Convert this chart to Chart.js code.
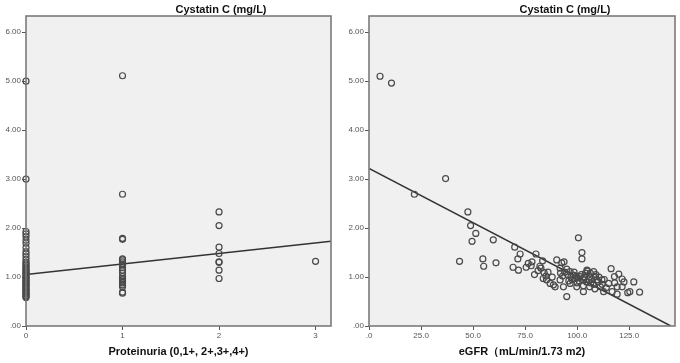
<!DOCTYPE html>
<html lang="en">
<head>
  <meta charset="UTF-8" />
  <title>Cystatin C scatter plots</title>
  <script src="https://cdn.jsdelivr.net/npm/chart.js"></script>
  <style>
    body {
      margin: 0;
      background: #fff;
      font-family: 'Liberation Sans', Arial, sans-serif;
    }
    .panel {
      position: absolute;
      top: 0;
      width: 340px;
      height: 363px;
    }
    .panel-title {
      position: absolute;
      top: 3px;
      font-size: 11px;
      font-weight: bold;
      color: #111;
      white-space: nowrap;
      transform: translateX(-50%);
    }
  </style>
</head>
<body>
  <div class="panel" style="left:0">
    <canvas id="leftChart" width="340" height="363"></canvas>
    <div class="panel-title" style="left:221px">Cystatin C (mg/L)</div>
  </div>
  <div class="panel" style="left:340px">
    <canvas id="rightChart" width="340" height="363"></canvas>
    <div class="panel-title" style="left:225px">Cystatin C (mg/L)</div>
  </div>

  <script>
    // left panel: cystatin C by proteinuria grade
    const cysGrade0 = [5.00, 3.00, 1.93, 1.88, 1.82, 1.75, 1.69, 1.60, 1.52, 1.47, 1.41, 1.35, 1.30, 1.27,
      1.24, 1.21, 1.18, 1.15, 1.12, 1.10, 1.07, 1.05, 1.02, 1.00, 0.98, 0.95, 0.92, 0.90, 0.87, 0.85,
      0.82, 0.80, 0.77, 0.75, 0.72, 0.70, 0.67, 0.65, 0.62, 0.60, 0.58];
    const cysGrade1 = [5.11, 2.69, 1.79, 1.77, 1.37, 1.35, 1.31, 1.27, 1.24, 1.19, 1.14, 1.08, 1.01,
      0.97, 0.94, 0.91, 0.88, 0.84, 0.80, 0.69, 0.67];
    const cysGrade2 = [2.33, 2.05, 1.61, 1.48, 1.31, 1.30, 1.14, 0.97];
    const cysGrade3 = [1.32];
    const leftFitX = [0, 3.16];
    const leftFitY = [1.05, 1.73];

    // right panel: cystatin C vs eGFR
    const egfr = [5.3, 10.8, 36.8, 21.8, 47.5, 48.8, 51.3, 49.5, 59.7, 43.5, 54.7, 55.1, 61.0, 70.0,
      72.6, 71.5, 69.2, 71.8, 80.2, 78.3, 77.9, 79.5, 81.2, 82.1, 82.6, 83.4, 84.1, 83.7, 85.3, 87.0,
      88.6, 90.2, 92.6, 93.7, 91.8, 95.0, 96.6, 98.2, 99.0, 95.0, 93.4, 91.8, 89.4, 96.6, 99.8, 100.6,
      102.3, 102.3, 101.4, 103.0, 103.0, 104.7, 106.3, 105.5, 107.9, 108.7, 109.5, 111.9, 111.1, 112.7,
      115.1, 116.3, 117.9, 120.0, 121.6, 119.2, 121.6, 116.8, 119.2, 125.3, 127.2, 130.0, 124.3,
      94.0, 95.5, 97.0, 97.5, 98.5, 99.5, 100.5, 101.0, 102.0, 103.5, 104.0, 104.5, 105.0, 106.0,
      106.5, 107.0, 108.0, 109.0, 110.0, 110.5, 112.0, 113.0, 114.0, 96.0, 93.0, 92.0, 88.0, 86.0,
      85.0, 100.0, 103.0, 106.0, 108.5, 118.0, 122.5, 75.5, 76.5];
    const cysRight = [5.10, 4.96, 3.01, 2.69, 2.33, 2.05, 1.89, 1.73, 1.76, 1.32, 1.37, 1.22, 1.29, 1.61,
      1.47, 1.37, 1.20, 1.14, 1.47, 1.31, 1.23, 1.05, 1.13, 1.22, 1.18, 1.33, 1.09, 0.97, 0.94, 0.87,
      0.84, 1.35, 1.29, 1.31, 1.18, 1.16, 1.11, 1.04, 0.97, 0.60, 0.80, 0.94, 0.80, 0.87, 0.80, 1.80,
      1.50, 1.37, 1.01, 0.94, 0.70, 1.14, 1.08, 0.94, 1.11, 1.01, 0.94, 0.94, 0.80, 0.70,
      0.87, 1.17, 1.01, 1.06, 0.96, 0.80, 0.80, 0.70, 0.65, 0.70, 0.90, 0.69, 0.68,
      1.10, 1.05, 1.00, 0.95, 1.10, 1.02, 0.98, 0.92, 1.05, 1.00, 1.08, 0.90, 1.12, 1.00,
      0.88, 0.95, 0.85, 1.05, 0.90, 1.00, 0.85, 0.95, 0.78, 0.92, 1.02, 1.08, 1.00, 1.10,
      1.02, 0.88, 0.82, 0.80, 0.76, 0.88, 0.90, 1.20, 1.28];
    const rightFitX = [0, 145];
    const rightFitY = [3.22, 0];

    const yTicks = [0, 1, 2, 3, 4, 5, 6];
    const leftXTicks = [0, 1, 2, 3];
    const rightXTicks = [0, 25, 50, 75, 100, 125];

    const fontFamily = "'Liberation Sans', Arial, sans-serif";

    // grey plot background + frame, SPSS style
    const framePlugin = {
      id: 'frame',
      beforeDraw(chart) {
        const a = chart.chartArea, c = chart.ctx;
        c.save();
        c.fillStyle = '#f0f0f0';
        c.fillRect(a.left, a.top, a.right - a.left, a.bottom - a.top);
        c.restore();
      },
      afterDatasetsDraw(chart) {
        const a = chart.chartArea, c = chart.ctx;
        c.save();
        c.strokeStyle = '#7a7a7a';
        c.lineWidth = 1.6;
        c.strokeRect(a.left, a.top, a.right - a.left, a.bottom - a.top);
        c.restore();
      }
    };

    function buildChart(id, points, fitX, fitY, opts) {
      const fit = fitX.map((x, i) => ({ x: x, y: fitY[i] }));
      return new Chart(document.getElementById(id), {
        type: 'scatter',
        data: {
          datasets: [
            {
              data: points,
              pointRadius: 3,
              pointHoverRadius: 3,
              borderWidth: 1.2,
              borderColor: '#4a4a4a',
              backgroundColor: 'rgba(0,0,0,0)',
              clip: false
            },
            {
              type: 'line',
              data: fit,
              borderColor: '#333',
              borderWidth: 1.5,
              pointRadius: 0,
              fill: false
            }
          ]
        },
        options: {
          responsive: false,
          animation: false,
          events: [],
          layout: { padding: { top: 16, right: opts.padRight, bottom: 0, left: 0 } },
          plugins: { legend: { display: false }, tooltip: { enabled: false } },
          scales: {
            x: {
              type: 'linear',
              min: 0,
              max: opts.xMax,
              afterBuildTicks: s => { s.ticks = opts.xTicks.map(v => ({ value: v })); },
              afterFit: s => { s.height = 37; },
              ticks: {
                includeBounds: false,
                padding: 1,
                color: '#555',
                font: { family: fontFamily, size: 8 },
                callback: opts.xLabel
              },
              grid: { drawOnChartArea: false, drawTicks: true, tickLength: 4, color: '#555' },
              border: { display: false },
              title: {
                display: true,
                text: opts.xTitle,
                color: '#111',
                padding: { top: 0, bottom: 4 },
                font: { family: fontFamily, size: 11, weight: 'bold' }
              }
            },
            y: {
              min: 0,
              max: 6.33,
              afterBuildTicks: s => { s.ticks = yTicks.map(v => ({ value: v })); },
              afterFit: s => { s.width = opts.yWidth; },
              ticks: {
                includeBounds: false,
                padding: 1,
                color: '#555',
                font: { family: fontFamily, size: 8 },
                callback: v => v === 0 ? '.00' : v.toFixed(2)
              },
              grid: { drawOnChartArea: false, drawTicks: true, tickLength: 4, color: '#555' },
              border: { display: false }
            }
          }
        },
        plugins: [framePlugin]
      });
    }

    const leftPoints = [];
    [cysGrade0, cysGrade1, cysGrade2, cysGrade3].forEach((vals, grade) => {
      vals.forEach(v => leftPoints.push({ x: grade, y: v }));
    });
    const rightPoints = egfr.map((x, i) => ({ x: x, y: cysRight[i] }));

    buildChart('leftChart', leftPoints, leftFitX, leftFitY, {
      xMax: 3.16, xTicks: leftXTicks, padRight: 9, yWidth: 26,
      xLabel: v => String(v),
      xTitle: 'Proteinuria (0,1+, 2+,3+,4+)'
    });

    buildChart('rightChart', rightPoints, rightFitX, rightFitY, {
      xMax: 147, xTicks: rightXTicks, padRight: 5, yWidth: 29,
      xLabel: v => v === 0 ? '.0' : v.toFixed(1),
      xTitle: 'eGFR（mL/min/1.73 m2)'
    });
  </script>
</body>
</html>
